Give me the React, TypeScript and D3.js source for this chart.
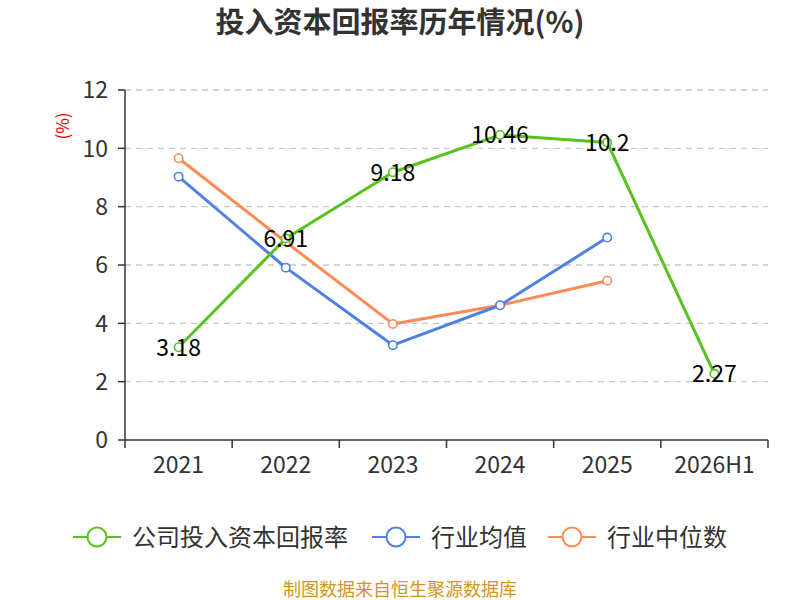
import * as d3 from 'd3'

const categories = ['2021', '2022', '2023', '2024', '2025', '2026H1']
const companyRoic = [3.18, 6.91, 9.18, 10.46, 10.2, 2.27]
const industryAvg = [9.03, 5.91, 3.25, 4.62, 6.94, null]
const industryMedian = [9.66, 6.79, 3.98, 4.62, 5.46, null]
const yTicks = [0, 2, 4, 6, 8, 10, 12]

const seriesList = [
  { name: '公司投入资本回报率', values: companyRoic, color: '#58c21e', labels: true },
  { name: '行业均值', values: industryAvg, color: '#4f81e3', labels: false },
  { name: '行业中位数', values: industryMedian, color: '#ff8a55', labels: false },
]

const W = 800
const H = 600
const font = '"Noto Sans CJK SC", "Noto Sans", sans-serif'

const App = () => {
  const left = 125
  const right = 768
  const top = 90
  const bottom = 440

  const x = d3.scaleBand<string>().domain(categories).range([left, right])
  const y = d3.scaleLinear().domain([0, 12]).range([bottom, top])
  const cx = (c: string) => (x(c) as number) + x.bandwidth() / 2

  const line = d3
    .line<number | null>()
    .defined((d) => d !== null)
    .x((_, i) => cx(categories[i]))
    .y((d) => y(d as number))

  // legend item starts (icon left edge)
  const legendX = [73, 372, 548]

  return (
    <svg width={W} height={H} style={{ position: 'absolute', left: 0, top: 0 }} fontFamily={font}>
      <rect width={W} height={H} fill="#fff" />
      <text x={400} y={33} textAnchor="middle" fontSize={29} fontWeight="bold" fill="#333">
        投入资本回报率历年情况(%)
      </text>
      <text
        transform={`translate(63,126) rotate(-90)`}
        dy="0.35em"
        textAnchor="middle"
        fontSize={17}
        fill="#e00000"
      >
        (%)
      </text>
      {yTicks.map((t) => (
        <g key={t}>
          {t > 0 && (
            <line x1={left} x2={right} y1={y(t)} y2={y(t)} stroke="#c8c8c8" strokeDasharray="6,5" strokeWidth={1.3} />
          )}
          <line x1={left - 7} x2={left} y1={y(t)} y2={y(t)} stroke="#333" strokeWidth={1.5} />
          <text x={left - 17} y={y(t)} dy="0.36em" textAnchor="end" fontSize={23} fill="#333">
            {t}
          </text>
        </g>
      ))}
      <line x1={left} x2={left} y1={top} y2={bottom} stroke="#333" strokeWidth={1.5} />
      <line x1={left} x2={right} y1={bottom} y2={bottom} stroke="#333" strokeWidth={1.5} />
      {categories.map((c, i) => (
        <g key={c}>
          <line x1={x(c) as number} x2={x(c) as number} y1={bottom} y2={bottom + 8} stroke="#333" strokeWidth={1.5} />
          {i === categories.length - 1 && (
            <line x1={right} x2={right} y1={bottom} y2={bottom + 8} stroke="#333" strokeWidth={1.5} />
          )}
          <text x={cx(c)} y={465} dy="0.36em" textAnchor="middle" fontSize={23} fill="#333">
            {c}
          </text>
        </g>
      ))}
      {seriesList.slice().reverse().map((s) => (
        <g key={s.name}>
          <path d={line(s.values) || ''} fill="none" stroke={s.color} strokeWidth={3} strokeLinejoin="round" />
          {s.values.map((v, i) =>
            v === null ? null : (
              <circle key={i} cx={cx(categories[i])} cy={y(v)} r={4.2} fill="#fff" stroke={s.color} strokeWidth={1.6} />
            ),
          )}
        </g>
      ))}
      {seriesList
        .filter((s) => s.labels)
        .map((s) =>
          s.values.map((v, i) =>
            v === null ? null : (
              <text key={i} x={cx(categories[i])} y={y(v)} dy="0.36em" textAnchor="middle" fontSize={23} fill="#000">
                {v}
              </text>
            ),
          ),
        )}
      {seriesList.map((s, i) => (
        <g key={s.name} transform={`translate(${legendX[i]},537)`}>
          <line x1={0} x2={48} y1={0} y2={0} stroke={s.color} strokeWidth={2} />
          <circle cx={24} cy={0} r={9.5} fill="#fff" stroke={s.color} strokeWidth={2} />
          <text x={59} y={0} dy="0.36em" fontSize={24} fill="#333">
            {s.name}
          </text>
        </g>
      ))}
      <text x={400} y={590} dy="0.36em" textAnchor="middle" fontSize={18} fill="#d0961c">
        制图数据来自恒生聚源数据库
      </text>
    </svg>
  )
}

export default App
